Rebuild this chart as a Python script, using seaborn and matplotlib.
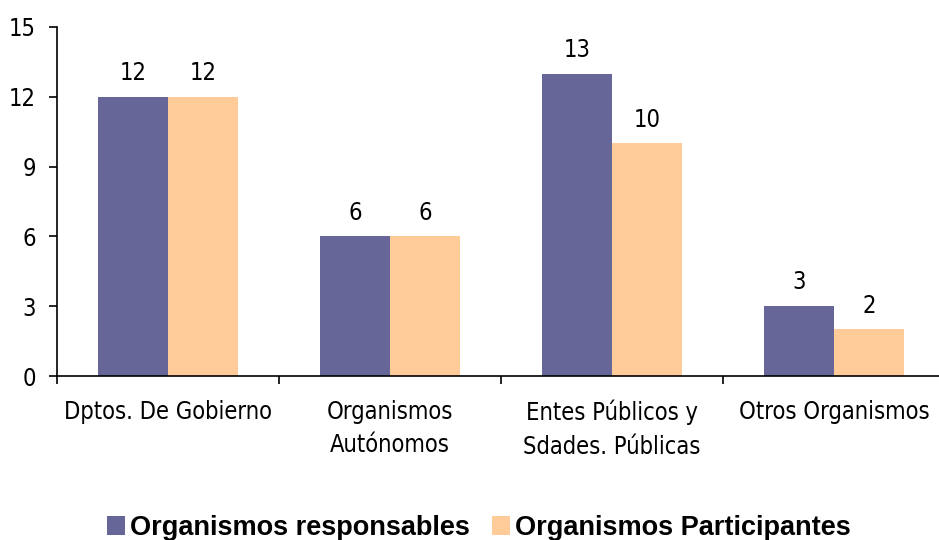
import matplotlib
matplotlib.use("Agg")
import matplotlib.pyplot as plt
from matplotlib.ticker import FixedLocator
import seaborn as sns
import pandas as pd

categories = ["Dptos. De Gobierno", "Organismos\nAutónomos",
              "Entes Públicos y\nSdades. Públicas", "Otros Organismos"]
series_names = ["Organismos responsables", "Organismos Participantes"]
responsables = [12, 6, 13, 3]
participantes = [12, 6, 10, 2]
y_ticks = [0, 3, 6, 9, 12, 15]
colors = ["#666699", "#FFCC99"]

df = pd.DataFrame({
    "Categoria": categories * 2,
    "Serie": [series_names[0]] * 4 + [series_names[1]] * 4,
    "Valor": responsables + participantes,
})

sns.set_style("white")
plt.rcParams["font.family"] = ["DejaVu Sans"]
plt.rcParams["text.color"] = "black"
plt.rcParams["xtick.color"] = "black"
plt.rcParams["ytick.color"] = "black"

FS = 17

fig = plt.figure(figsize=(9.39, 5.40), dpi=100)
ax = fig.add_axes([57 / 939, 1 - 376 / 540, 888 / 939, 349 / 540])

sns.barplot(data=df, x="Categoria", y="Valor", hue="Serie", order=categories,
            hue_order=series_names, palette=colors, width=0.63, gap=0,
            saturation=1, edgecolor="none", linewidth=0, ax=ax, legend=True)

for cont in ax.containers:
    labels = ax.bar_label(cont, padding=8.5)
    for t in labels:
        t.set_fontsize(FS)
        t.set_fontstretch("condensed")
        t.set_color("black")

ax.set_xlim(-0.5, 3.5)
ax.set_ylim(0, 15)
ax.set_yticks(y_ticks)
ax.set_xlabel("")
ax.set_ylabel("")

for s in ["top", "right"]:
    ax.spines[s].set_visible(False)
for s in ["left", "bottom"]:
    ax.spines[s].set_color("black")
    ax.spines[s].set_linewidth(1.2)

ax.tick_params(axis="y", which="major", direction="out", length=6, width=1.2,
               color="black", labelcolor="black", pad=9, left=True,
               labelsize=FS)
ax.tick_params(axis="x", which="major", length=0, pad=17, labelsize=FS,
               labelcolor="black")
ax.xaxis.set_minor_locator(FixedLocator([-0.5, 0.5, 1.5, 2.5, 3.5]))
ax.tick_params(axis="x", which="minor", direction="out", length=6, width=1.2,
               color="black", bottom=True)
for t in ax.get_xticklabels() + ax.get_yticklabels():
    t.set_fontstretch("condensed")
    t.set_linespacing(1.5)

leg = ax.legend(loc="center", bbox_to_anchor=(479 / 939, 1 - 528 / 540),
                bbox_transform=fig.transFigure, ncol=2, frameon=False,
                handlelength=0.67, handleheight=0.67, handletextpad=0.19,
                columnspacing=0.8, borderpad=0, borderaxespad=0,
                prop=dict(family="Liberation Sans", weight="bold", size=19.5))

fig.savefig("out.png", dpi=100)
